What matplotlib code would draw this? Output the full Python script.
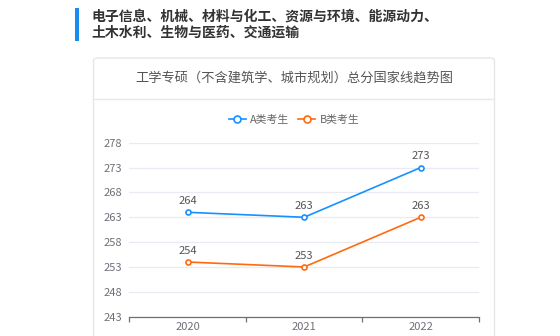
import matplotlib
matplotlib.use("Agg")
import matplotlib.pyplot as plt
from matplotlib.patches import FancyBboxPatch, Rectangle
from matplotlib.lines import Line2D

plt.rcParams['font.family'] = ['Noto Sans CJK SC', 'DejaVu Sans']

# Data
years = ["2020", "2021", "2022"]
scores_a = [264, 263, 273]
scores_b = [254, 253, 263]
series_names = ["A类考生", "B类考生"]
y_ticks = [243, 248, 253, 258, 263, 268, 273, 278]
header = "电子信息、机械、材料与化工、资源与环境、能源动力、\n土木水利、生物与医药、交通运输"
title = "工学专硕（不含建筑学、城市规划）总分国家线趋势图"

W, H = 560, 336
fig = plt.figure(figsize=(W / 100, H / 100), dpi=100)
fig.patch.set_facecolor("white")

def fx(px):
    return px / W

def fy(py):
    return 1 - py / H

# Section header with blue accent bar
fig.patches.append(Rectangle((fx(75), fy(41)), fx(4), (33) / H, transform=fig.transFigure,
                             facecolor="#1a8cf0", edgecolor="none", zorder=0))
fig.text(fx(91), fy(24.5), header, ha="left", va="center", fontsize=10, fontweight="bold",
         color="#333333", linespacing=1.2)

# Card
card = FancyBboxPatch((fx(93.5), fy(345)), fx(401), (345 - 58) / H,
                      boxstyle="round,pad=0,rounding_size=0.008",
                      transform=fig.transFigure, facecolor="white",
                      edgecolor="#e4e6ea", linewidth=1.0, zorder=-1)
fig.patches.append(card)
fig.lines.append(Line2D([fx(94), fx(494)], [fy(98.5), fy(98.5)], transform=fig.transFigure,
                        color="#e6e8ec", linewidth=1.0, zorder=0))
fig.text(fx(294), fy(78), title, ha="center", va="center", fontsize=9.5, color="#555555")

# Chart
colors = ["#1890ff", "#ff6a0f"]
ax = fig.add_axes([fx(129.3), fy(316.7), fx(479 - 129.3), (316.7 - 142.7) / H])
ax.set_zorder(2)
ax.set_facecolor("none")
x = list(range(len(years)))
for vals, c, name in zip([scores_a, scores_b], colors, series_names):
    ax.plot(x, vals, color=c, linewidth=1.2, marker="o", markersize=3.6,
            markerfacecolor="white", markeredgewidth=1.2, label=name, zorder=3)
    for xi, v in zip(x, vals):
        ax.annotate(str(v), (xi, v), xytext=(0, 4.5), textcoords="offset points",
                    ha="center", va="bottom", fontsize=8, color="#555555")

ax.set_xlim(-0.5, len(years) - 0.5)
ax.set_ylim(y_ticks[0], y_ticks[-1])
ax.set_yticks(y_ticks)
ax.set_xticks(x)
ax.set_xticklabels(years)
ax.set_xticks([-0.5, 0.5, 1.5, 2.5], minor=True)
ax.grid(axis="y", color="#e8ebf2", linewidth=0.9)
ax.set_axisbelow(True)
for s in ["top", "right", "left"]:
    ax.spines[s].set_visible(False)
ax.spines["bottom"].set_color("#6e7079")
ax.spines["bottom"].set_linewidth(0.9)
ax.tick_params(axis="y", length=0, labelsize=8, labelcolor="#6e7079", pad=5)
ax.tick_params(axis="x", which="major", length=0, labelsize=8, labelcolor="#6e7079", pad=3.5)
ax.tick_params(axis="x", which="minor", length=3.5, color="#6e7079", width=0.9, direction="out")

# Legend
leg = fig.legend(handles=ax.get_lines(), labels=series_names, loc="center",
                 bbox_to_anchor=(fx(294), fy(120)), ncol=2, frameon=False,
                 fontsize=7.8, handlelength=1.6, columnspacing=0.8, handletextpad=0.4,
                 labelcolor="#666666")
for h in leg.legend_handles:
    h.set_markersize(5)

fig.savefig("out.png", dpi=100, facecolor="white")
